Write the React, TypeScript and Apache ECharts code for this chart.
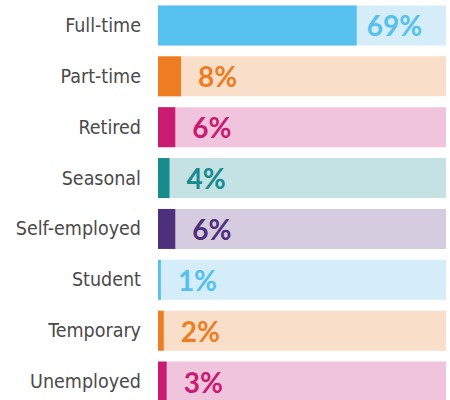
import React, { useEffect, useRef } from "react";
import * as echarts from "echarts";

const categories = ["Full-time", "Part-time", "Retired", "Seasonal", "Self-employed", "Student", "Temporary", "Unemployed"];
const values = [69, 8, 6, 4, 6, 1, 2, 3];
const totals = [100, 100, 100, 100, 100, 100, 100, 100];

const darkColors = ["#56C1EE", "#EE7D22", "#C91B72", "#178B8E", "#4E2F7C", "#56C1EE", "#EE7D22", "#C91B72"];
const lightColors = ["#D4EDF9", "#F9DFC9", "#F0C4DC", "#C4E1E3", "#D5CCE0", "#D4EDF9", "#F9DFC9", "#F0C4DC"];

export default function App() {
  const ref = useRef<HTMLDivElement>(null);
  useEffect(() => {
    if (!ref.current) return;
    const chart = echarts.init(ref.current, null, { renderer: "svg" });
    chart.setOption({
      animation: false,
      grid: { left: 158, right: 4, top: 0, height: 407, containLabel: false, outerBoundsMode: "none" },
      xAxis: { type: "value", min: 0, max: 100, show: false },
      yAxis: {
        type: "category",
        data: categories,
        inverse: true,
        axisLine: { show: false },
        axisTick: { show: false },
        axisLabel: {
          margin: 17,
          fontSize: 19.5,
          color: "#4A4A4A",
          fontFamily: "'Liberation Sans Narrow', 'DejaVu Sans Condensed', sans-serif",
        },
      },
      series: [
        {
          type: "bar",
          barWidth: 40,
          barGap: "-100%",
          silent: true,
          data: totals.map((v, i) => ({ value: v, itemStyle: { color: lightColors[i] } })),
        },
        {
          type: "bar",
          barWidth: 40,
          barGap: "-100%",
          data: values.map((v, i) => ({
            value: v,
            itemStyle: { color: darkColors[i] },
            label: {
              show: true,
              position: "right",
              distance: i === 0 ? 10 : 17,
              formatter: "{c}%",
              color: darkColors[i],
              fontSize: 28,
              fontWeight: "bold",
              fontFamily: "Lato, 'Open Sans', sans-serif",
            },
          })),
        },
      ],
    });
    return () => chart.dispose();
  }, []);
  return <div ref={ref} style={{ position: "absolute", left: 0, top: 0, width: 450, height: 400 }} />;
}
